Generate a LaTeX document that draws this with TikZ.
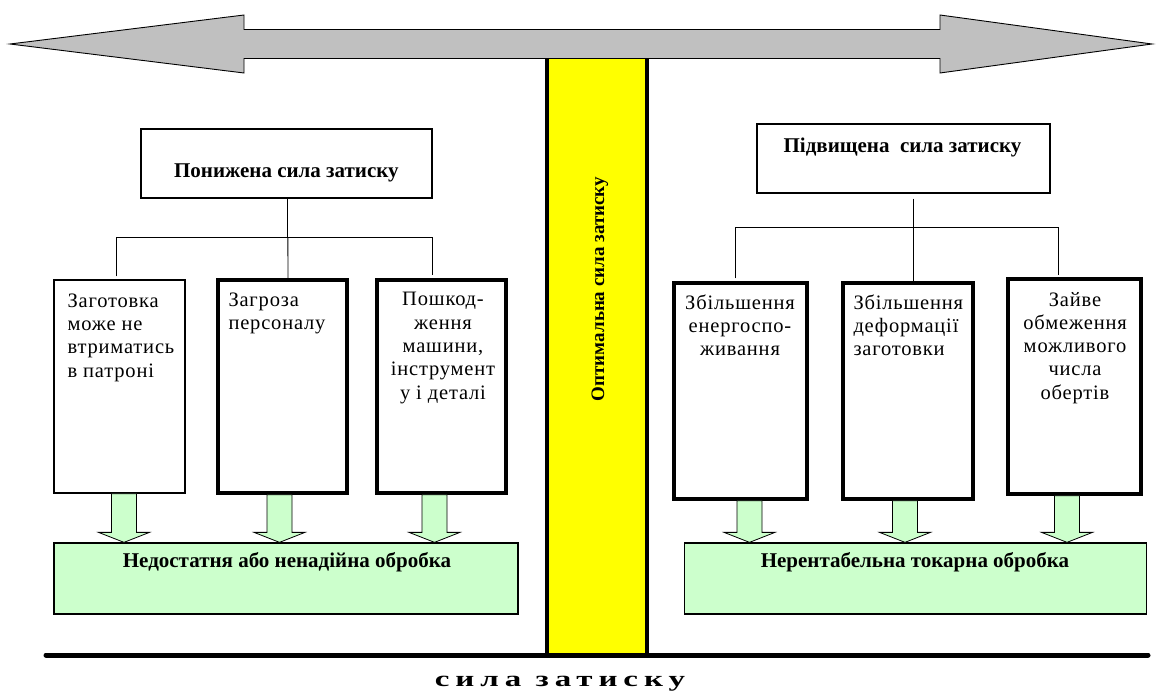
\documentclass[tikz,border=0pt]{standalone}
\usepackage{fontspec}
\setmainfont{Liberation Serif}
\usetikzlibrary{calc}
\definecolor{arrowgray}{HTML}{C0C0C0}
\definecolor{lightgreen}{HTML}{CCFFCC}
\definecolor{optyellow}{HTML}{FFFF00}
\newcommand{\fatarrow}[3]{%
\draw[fatarrowstyle] let \p1=([xshift=#3]#1.south), \p2=(#2.north) in
 (\x1-12.5pt,\y1) -- (\x1+12.5pt,\y1) -- (\x1+12.5pt,\y2+10pt) -- (\x1+25.5pt,\y2+10pt)
 -- (\x1,\y2) -- (\x1-25.5pt,\y2+10pt) -- (\x1-12.5pt,\y2+10pt) -- cycle;}
\begin{document}
\begin{tikzpicture}[x=1pt,y=-1pt]

\tikzstyle{every node}=[inner sep=0pt];
\tikzstyle{boxtext}=[font=\fontsize{20.5}{23.3}\selectfont\addfontfeature{LetterSpace=4}];
\tikzstyle{headtext}=[font=\fontsize{21}{24}\selectfont\bfseries];
\tikzstyle{thinbox}=[draw, line width=1.3pt, fill=white];
\tikzstyle{thickbox}=[draw, line width=3.4pt, fill=white];
\tikzstyle{greenbox}=[draw, line width=1.3pt, fill=lightgreen, minimum height=71];
\tikzstyle{fatarrowstyle}=[draw, line width=0.8pt, fill=lightgreen];
\tikzstyle{branch}=[line width=0.9pt];

\useasboundingbox (0,0) rectangle (1158,693);

\node[draw, line width=3.5pt, fill=optyellow, minimum width=100, minimum height=603] (opt) at (597,353.5) {};
\node[headtext, font=\fontsize{19}{22}\selectfont\bfseries, rotate=90] (optt) at (600,289) {Оптимальна сила затиску};

\draw[line width=0.9pt, fill=arrowgray] (10,44) -- (244,15) -- (244,29.5) -- (940,29.5) -- (940,15)
 -- (1152,44) -- (940,73) -- (940,58.5) -- (244,58.5) -- (244,73) -- cycle;

\draw[line width=5pt, line cap=round] (46,655) -- (1148,655);
\node[headtext, font=\fontsize{22}{24}\selectfont\bfseries\addfontfeature{LetterSpace=18}, xscale=1.5, anchor=base] (axis) at (560,686) {сила затиску};

\begin{scope}
\node[draw, line width=1.3pt, minimum width=291, minimum height=69] (h1) at (286.4,163.5) {};
\node[headtext] (h1t) at (286.4,173) {Понижена сила затиску};

\node[thinbox, minimum width=131, minimum height=213] (b1) at (119.5,386.5) {};
\node[thickbox, minimum width=129, minimum height=213] (b2) at (282.5,386.5) {};
\node[thickbox, minimum width=129, minimum height=213] (b3) at (441.5,386.5) {};

\node[boxtext, anchor=north west, align=left] (b1t) at ([shift={(14,14)}]b1.north west) {Заготовка\\може не\\втриматись\\в патроні};
\node[boxtext, anchor=north west, align=left] (b2t) at ([shift={(12,14)}]b2.north west) {Загроза\\персоналу};
\node[boxtext, anchor=north, align=center] (b3t) at ([shift={(1.5,14)}]b3.north) {Пошкод-\\ження\\машини,\\інструмент\\у і деталі};

\draw[branch] ([xshift=1.5]h1.south) -- ++(0,39) coordinate (lj);
\draw[branch] ([shift={(-3.5,-3)}]b1.north) |- (lj) -| ([shift={(-9.5,-3)}]b3.north);
\draw[branch] (lj) -- ([xshift=5.5]b2.north);

\node[greenbox, minimum width=464] (g1) at (286,578.5) {};
\node[headtext] (g1t) at (287,562) {Недостатня або ненадійна обробка};

\fatarrow{b1}{g1}{4.5}
\fatarrow{b2}{g1}{-3}
\fatarrow{b3}{g1}{-7}
\end{scope}

\begin{scope}
\node[draw, line width=1.3pt, minimum width=293, minimum height=69] (h2) at (903.5,158.5) {};
\node[headtext] (h2t) at (902.5,147) {Підвищена\ \ сила затиску};

\node[thickbox, minimum width=133, minimum height=216] (b4) at (740.5,391) {};
\node[thickbox, minimum width=130, minimum height=216] (b5) at (908,391) {};
\node[thickbox, minimum width=133, minimum height=215] (b6) at (1074.5,386.5) {};

\node[boxtext, anchor=north, align=center] (b4t) at ([shift={(-0.5,13)}]b4.north) {Збільшення\\енергоспо-\\живання};
\node[boxtext, anchor=north west, align=left] (b5t) at ([shift={(12,13)}]b5.north west) {Збільшення\\деформації\\заготовки};
\node[boxtext, anchor=north, align=center] (b6t) at ([shift={(0.5,14.5)}]b6.north) {Зайве\\обмеження\\можливого\\числа\\обертів};

\draw[branch] ([shift={(9.5,5)}]h2.south) -- ++(0,29) coordinate (rj);
\draw[branch] ([shift={(-5.5,-3)}]b4.north) |- (rj) -| ([shift={(-16.5,-2)}]b6.north);
\draw[branch] (rj) -- ([xshift=5]b5.north);

\node[greenbox, minimum width=462] (g2) at (915.5,578.5) {};
\node[headtext] (g2t) at (915,562) {Нерентабельна токарна обробка};

\fatarrow{b4}{g2}{9}
\fatarrow{b5}{g2}{-3}
\fatarrow{b6}{g2}{-7.5}
\end{scope}
\end{tikzpicture}
\end{document}
